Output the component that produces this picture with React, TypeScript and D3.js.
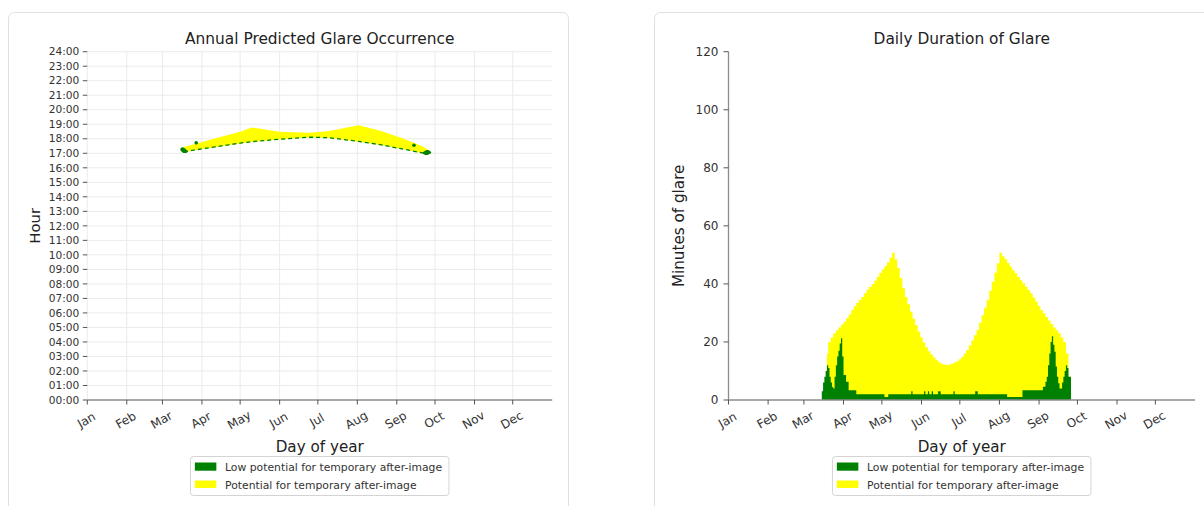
import React from "react";
import * as d3 from "d3";

// ---------- shared axis data ----------
const monthLabels = ["Jan", "Feb", "Mar", "Apr", "May", "Jun", "Jul", "Aug", "Sep", "Oct", "Nov", "Dec"];
const monthStartDays = [0, 31, 59, 90, 120, 151, 181, 212, 243, 273, 304, 334];
const hourLabels = [
  "00:00", "01:00", "02:00", "03:00", "04:00", "05:00", "06:00", "07:00", "08:00", "09:00",
  "10:00", "11:00", "12:00", "13:00", "14:00", "15:00", "16:00", "17:00", "18:00", "19:00",
  "20:00", "21:00", "22:00", "23:00", "24:00",
];
const minuteTicks = [0, 20, 40, 60, 80, 100, 120];
const legendLabels = ["Low potential for temporary after-image", "Potential for temporary after-image"];

// ---------- left chart: glare occurrence band (day of year, hour) ----------
const bandDays = [73.5, 76, 81, 100, 120, 129, 151, 175, 190, 213, 230, 248, 264, 267, 269.5];
const bandEnd = [17.28, 17.45, 17.56, 18.02, 18.48, 18.78, 18.48, 18.41, 18.53, 18.94, 18.56, 18.02, 17.45, 17.28, 17.05];
const bandStart = [17.22, 17.06, 17.16, 17.42, 17.68, 17.78, 17.95, 18.09, 18.05, 17.8, 17.57, 17.27, 16.99, 16.95, 17.02];

const lowLeftDays = [73, 74.5, 76.5, 78.5];
const lowLeftStart = [17.22, 17.08, 17.02, 17.06];
const lowLeftEnd = [17.3, 17.42, 17.35, 17.18];
const lowRightDays = [263.5, 265.5, 267.5, 270];
const lowRightStart = [16.96, 16.88, 16.9, 17.02];
const lowRightEnd = [17.08, 17.2, 17.22, 17.08];
const lowMarkDays = [85.5, 256.5];
const lowMarkHours = [17.72, 17.55];

// ---------- right chart: daily minutes of glare ----------
const yellowDays = [
  74, 77, 78, 80, 82, 84, 86, 88, 90, 92,
  94, 96, 98, 100, 102, 104, 106, 108, 110, 112,
  114, 116, 118, 120, 122, 124, 126, 128, 130, 132,
  134, 136, 138, 140, 142, 144, 146, 148, 150, 152,
  154, 156, 158, 160, 162, 164, 166, 168, 170, 172,
  174, 176, 178, 180, 182, 184, 186, 188, 190, 192,
  194, 196, 198, 200, 202, 204, 206, 208, 210, 212,
  214, 216, 218, 220, 222, 224, 226, 228, 230, 232,
  234, 236, 238, 240, 242, 244, 246, 248, 250, 252,
  254, 256, 258, 260, 262, 264, 266, 268,
];
const yellowMinutes = [
  0, 16, 20, 21.5, 23, 24, 25, 26, 27, 28.2,
  29.5, 31, 32.3, 33.5, 34.5, 35.5, 36.8, 38, 39, 40,
  41.2, 42.5, 43.8, 45, 46.2, 47.5, 49, 50.7, 48.5, 45.5,
  42, 38.5, 35.5, 33, 30.5, 28, 25.8, 23.6, 21.6, 19.8,
  18.2, 16.8, 15.7, 14.6, 13.8, 13, 12.5, 12.2, 12.1, 12.2,
  12.5, 12.9, 13.3, 14, 14.8, 16, 17.2, 18.8, 20.5, 22.3,
  24.1, 26.6, 29.2, 31.8, 34.5, 37.6, 40.7, 43.8, 47, 50.7,
  49.5, 48.5, 47.2, 45.9, 44.7, 43.6, 42.4, 41.3, 40.2, 39,
  37.9, 36.8, 35.3, 33.9, 32.4, 31, 29.8, 28.6, 27.4, 26.2,
  25, 24, 23, 21.5, 20, 16, 8, 0,
];
const greenDays = [
  73, 74, 75, 76, 77, 78, 79, 80, 81, 82,
  83, 84, 85, 86, 87, 88, 89, 90, 92, 94,
  100, 122, 125, 143, 144, 153, 154, 156, 157, 159,
  160, 164, 166, 176, 177, 193, 195, 218, 230, 246,
  248, 249, 250, 251, 252, 253, 254, 255, 256, 257,
  258, 259, 261, 262, 263, 264, 265, 266, 268,
];
const greenMinutes = [
  3, 6, 8, 10, 12, 11, 8, 6, 4.5, 4,
  8, 12, 15, 17, 19.5, 21.3, 15, 8.6, 6.3, 3.4,
  2, 1, 2, 3, 2, 3, 2, 3, 2, 3,
  2, 3, 2, 3, 2, 3, 2, 1, 3.4, 4.6,
  6.3, 8, 12, 16, 20, 22, 19, 16.6, 11.5, 8,
  5.8, 4, 6, 8, 10, 12, 11, 8, 0,
];

const FONT = "'DejaVu Sans', sans-serif";
const GREEN = "#008000";
const YELLOW = "#ffff00";
const SPINE = "#8c8c8c";
const TEXT = "#333";

function Legend({ cx }: { cx: number }) {
  const x0 = cx - 129.3;
  const y0 = 456.5;
  return (
    <g>
      <rect x={x0} y={y0} width={258.5} height={39} rx={3} fill="#fff" stroke="#d4d4d4" strokeWidth={1} />
      <rect x={x0 + 4.4} y={y0 + 6} width={21.5} height={8.2} fill={GREEN} />
      <rect x={x0 + 4.4} y={y0 + 24} width={21.5} height={7.5} fill={YELLOW} />
      <text x={x0 + 34.6} y={y0 + 14} fontSize={10.8} fill={TEXT} fontFamily={FONT}>{legendLabels[0]}</text>
      <text x={x0 + 34.6} y={y0 + 32} fontSize={10.8} fill={TEXT} fontFamily={FONT}>{legendLabels[1]}</text>
    </g>
  );
}

export default function App() {
  const W = 1204, H = 506;
  const xL = d3.scaleLinear().domain([0, 365]).range([87.3, 552.2]);
  const yL = d3.scaleLinear().domain([0, 24]).range([400, 51.7]);
  const xR = d3.scaleLinear().domain([0, 365]).range([728.5, 1195]);
  const yR = d3.scaleLinear().domain([0, 120]).range([400, 51.7]);

  const idx = (arr: number[]) => arr.map((_, i) => i);

  const bandArea = d3.area<number>()
    .x((i) => xL(bandDays[i]))
    .y0((i) => yL(bandStart[i]))
    .y1((i) => yL(bandEnd[i]));
  const bandLowLine = d3.line<number>()
    .x((i) => xL(bandDays[i]))
    .y((i) => yL(bandStart[i]) - 0.3);

  const blob = (days: number[], s: number[], e: number[]) =>
    d3.area<number>()
      .curve(d3.curveMonotoneX)
      .x((i) => xL(days[i]))
      .y0((i) => yL(s[i]))
      .y1((i) => yL(e[i]))(idx(days)) || "";

  const stepArea = (days: number[], vals: number[]) =>
    d3.area<number>()
      .curve(d3.curveStepAfter)
      .x((i) => xR(days[i]))
      .y0(yR(0))
      .y1((i) => yR(vals[i]))(idx(days)) || "";

  const cxL = (xL.range()[0] + xL.range()[1]) / 2;
  const cxR = (xR.range()[0] + xR.range()[1]) / 2;

  return (
    <svg width={W} height={H} style={{ position: "absolute", left: 0, top: 0, display: "block", background: "#fff" }}>
      {/* cards */}
      <rect x={8.5} y={12.5} width={560} height={520} rx={6} fill="#fff" stroke="#e0e0e0" />
      <rect x={654.5} y={12.5} width={580} height={520} rx={6} fill="#fff" stroke="#e0e0e0" />

      {/* ===== Left chart ===== */}
      <g>
        {hourLabels.map((_, h) => (
          <line key={"hg" + h} x1={xL(0)} x2={xL(365)} y1={yL(h)} y2={yL(h)} stroke="#ebebeb" strokeWidth={1} />
        ))}
        {monthStartDays.map((d) => (
          <line key={"vg" + d} x1={xL(d)} x2={xL(d)} y1={yL(24)} y2={yL(0)} stroke="#ebebeb" strokeWidth={1} />
        ))}
        <path d={bandArea(idx(bandDays)) || ""} fill={YELLOW} />
        <path
          d={bandLowLine(idx(bandDays).slice(1, 13)) || ""}
          fill="none"
          stroke={GREEN}
          strokeWidth={1.3}
          strokeDasharray="4 3"
        />
        <path d={blob(lowLeftDays, lowLeftStart, lowLeftEnd)} fill={GREEN} />
        <path d={blob(lowRightDays, lowRightStart, lowRightEnd)} fill={GREEN} />
        {lowMarkDays.map((d, i) => (
          <circle key={"lm" + i} cx={xL(d)} cy={yL(lowMarkHours[i])} r={1.8} fill={GREEN} />
        ))}
        <line x1={xL(0)} x2={xL(365)} y1={yL(0)} y2={yL(0)} stroke={SPINE} strokeWidth={1.3} />
        {hourLabels.map((lab, h) => (
          <g key={"ht" + h}>
            <line x1={xL(0) - 4.5} x2={xL(0)} y1={yL(h)} y2={yL(h)} stroke="#555" strokeWidth={1} />
            <text x={xL(0) - 8} y={yL(h)} dy="0.35em" textAnchor="end" fontSize={10.6} fill={TEXT} fontFamily={FONT}>{lab}</text>
          </g>
        ))}
        {monthStartDays.map((d, i) => (
          <g key={"mt" + i}>
            <line x1={xL(d)} x2={xL(d)} y1={yL(0)} y2={yL(0) + 4.5} stroke="#555" strokeWidth={1} />
            <text
              transform={`translate(${xL(d) - 1},${yL(0) + 20}) rotate(-30)`}
              textAnchor="middle"
              dy="0.35em"
              fontSize={12}
              fill={TEXT}
              fontFamily={FONT}
            >{monthLabels[i]}</text>
          </g>
        ))}
        <text x={cxL} y={44} textAnchor="middle" fontSize={15.4} fill="#222" fontFamily={FONT}>Annual Predicted Glare Occurrence</text>
        <text x={cxL} y={451.5} textAnchor="middle" fontSize={15.2} fill="#222" fontFamily={FONT}>Day of year</text>
        <text transform={`translate(39.5,${(yL(0) + yL(24)) / 2}) rotate(-90)`} textAnchor="middle" fontSize={14.8} fill="#222" fontFamily={FONT}>Hour</text>
        <Legend cx={cxL} />
      </g>

      {/* ===== Right chart ===== */}
      <g>
        <path d={stepArea(yellowDays, yellowMinutes)} fill={YELLOW} />
        <path d={stepArea(greenDays, greenMinutes)} fill={GREEN} />
        <line x1={xR(0)} x2={xR(0)} y1={yR(120)} y2={yR(0)} stroke={SPINE} strokeWidth={1.3} />
        <line x1={xR(0)} x2={xR(365)} y1={yR(0)} y2={yR(0)} stroke={SPINE} strokeWidth={1.3} />
        {minuteTicks.map((m) => (
          <g key={"mtk" + m}>
            <line x1={xR(0) - 5} x2={xR(0)} y1={yR(m)} y2={yR(m)} stroke="#555" strokeWidth={1} />
            <text x={xR(0) - 10} y={yR(m)} dy="0.35em" textAnchor="end" fontSize={12} fill={TEXT} fontFamily={FONT}>{m}</text>
          </g>
        ))}
        {monthStartDays.map((d, i) => (
          <g key={"rmt" + i}>
            <line x1={xR(d)} x2={xR(d)} y1={yR(0)} y2={yR(0) + 4.5} stroke="#555" strokeWidth={1} />
            <text
              transform={`translate(${xR(d) - 1},${yR(0) + 20}) rotate(-30)`}
              textAnchor="middle"
              dy="0.35em"
              fontSize={12}
              fill={TEXT}
              fontFamily={FONT}
            >{monthLabels[i]}</text>
          </g>
        ))}
        <text x={cxR} y={44} textAnchor="middle" fontSize={15.4} fill="#222" fontFamily={FONT}>Daily Duration of Glare</text>
        <text x={cxR} y={451.5} textAnchor="middle" fontSize={15.2} fill="#222" fontFamily={FONT}>Day of year</text>
        <text transform={`translate(684,${(yR(0) + yR(120)) / 2}) rotate(-90)`} textAnchor="middle" fontSize={15.2} fill="#222" fontFamily={FONT}>Minutes of glare</text>
        <Legend cx={cxR} />
      </g>
    </svg>
  );
}
